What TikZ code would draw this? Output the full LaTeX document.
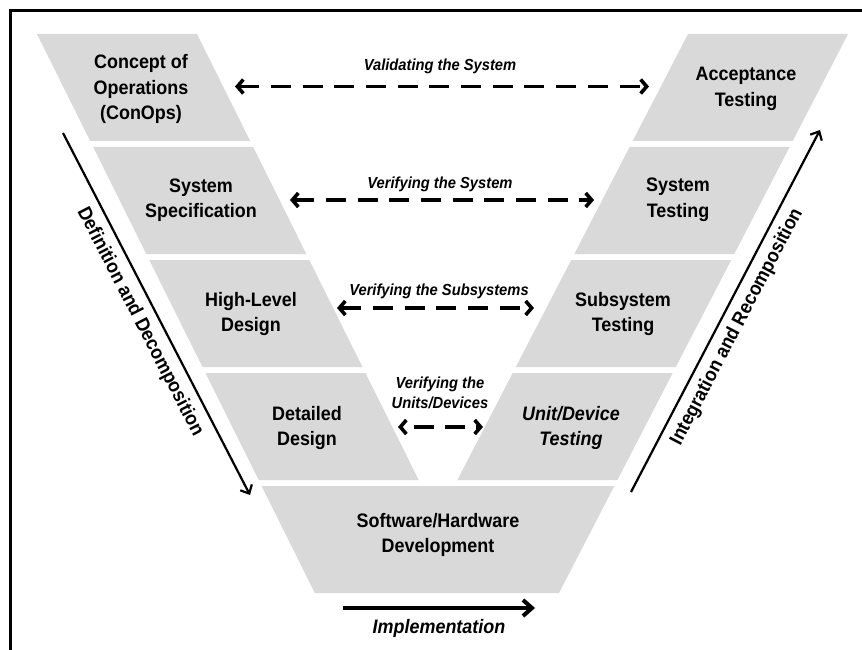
\documentclass[tikz,border=0pt]{standalone}
\usepackage{fontspec}
\setmainfont{Liberation Sans}[FakeStretch=0.92]
\usetikzlibrary{arrows.meta}
\definecolor{boxgray}{RGB}{217,217,217}
\begin{document}
\begin{tikzpicture}[x=1pt,y=-1pt,
  stagebox/.style={fill=boxgray,draw=none},
  stagetext/.style={font=\fontsize{19.5}{25.5}\selectfont\bfseries,align=center,inner sep=0pt},
  stageit/.style={font=\fontsize{19.5}{25.5}\selectfont\bfseries\itshape,align=center,inner sep=0pt},
  linklabel/.style={font=\fontsize{16}{20}\selectfont\bfseries\itshape,align=center,inner sep=0pt},
  sidelabel/.style={font=\fontsize{19.5}{24}\selectfont\bfseries,inner sep=0pt},
  linkarrow/.style={line width=3.6pt,dash pattern=on 20pt off 11.7pt,
    {Straight Barb[length=6pt,width=14pt]}-{Straight Barb[length=6pt,width=14pt]}},
  phasearrow/.style={line width=2.2pt,-{Straight Barb[length=7pt,width=13pt]}}
]
\useasboundingbox (0,0) rectangle (862,650);
\fill[white] (0,0) rectangle (862,650);
% frame
\draw[line width=3pt] (10,650) -- (10,10.5) -- (862,10.5);
% left side boxes
\fill[stagebox] (37,34) -- (197,34) -- (250.2,141) -- (90.2,141) -- cycle;
\fill[stagebox] (93.2,147) -- (253.2,147) -- (306.3,254) -- (146.3,254) -- cycle;
\fill[stagebox] (149.3,260) -- (309.3,260) -- (362.5,367) -- (202.5,367) -- cycle;
\fill[stagebox] (205.5,373) -- (365.5,373) -- (418.7,480) -- (258.7,480) -- cycle;
% bottom
\fill[stagebox] (261.6,486) -- (614.3,486) -- (559,593) -- (314.8,593) -- cycle;
% right side boxes
\fill[stagebox] (688,34) -- (848,34) -- (792.7,141) -- (632.7,141) -- cycle;
\fill[stagebox] (629.6,147) -- (789.6,147) -- (734.3,254) -- (574.3,254) -- cycle;
\fill[stagebox] (571.2,260) -- (731.2,260) -- (675.8,367) -- (515.8,367) -- cycle;
\fill[stagebox] (512.7,373) -- (672.7,373) -- (617.4,480) -- (457.4,480) -- cycle;
% stage texts
\node[stagetext] (conops) at (141,89) {Concept of\\Operations\\(ConOps)};
\node[stagetext] (sysspec) at (201,200) {System\\Specification};
\node[stagetext] (hld) at (251,314) {High-Level\\Design};
\node[stagetext] (dd) at (307,428) {Detailed\\Design};
\node[stagetext] (swhw) at (438,535) {Software/Hardware\\Development};
\node[stagetext] (accept) at (746,89) {Acceptance\\Testing};
\node[stagetext] (systest) at (678,200) {System\\Testing};
\node[stagetext] (subtest) at (623,314) {Subsystem\\Testing};
\node[stageit] (unittest) at (571,428) {Unit/Device\\Testing};
% verification arrows
\coordinate (v1l) at (235,86.5); \coordinate (v1r) at (649,86.5);
\coordinate (v2l) at (290,200); \coordinate (v2r) at (594,200);
\coordinate (v3l) at (337,308); \coordinate (v3r) at (534,308);
\coordinate (v4l) at (398,427); \coordinate (v4r) at (483,427);
\draw[linkarrow] (v1l) -- (v1r);
\draw[linkarrow] (v2l) -- (v2r);
\draw[linkarrow] (v3l) -- (v3r);
\draw[linkarrow,dash pattern=on 20pt off 11pt,dash phase=-12pt] (v4l) -- (v4r);
\node[linklabel] (v1lab) at (440,66) {Validating the System};
\node[linklabel] (v2lab) at (440,184) {Verifying the System};
\node[linklabel] (v3lab) at (439,291) {Verifying the Subsystems};
\node[linklabel] (v4lab) at (440,393) {Verifying the\\Units/Devices};
% phase arrows
\coordinate (defs) at (63,133); \coordinate (defe) at (250,495);
\draw[phasearrow] (defs) -- (defe);
\node[sidelabel,rotate=-62.7] (deflab) at (140,322) {Definition and Decomposition};
\coordinate (ints) at (631,492); \coordinate (inte) at (820,130);
\draw[phasearrow] (ints) -- (inte);
\node[sidelabel,rotate=62.4] (intlab) at (737,327) {Integration and Recomposition};
\coordinate (imps) at (343,608); \coordinate (impe) at (535,608);
\draw[line width=4pt,-{Straight Barb[length=9pt,width=16pt]}] (imps) -- (impe);
\node[font=\fontsize{19.5}{24}\selectfont\bfseries\itshape,inner sep=0pt] (implab) at (439,628) {Implementation};
\end{tikzpicture}
\end{document}
